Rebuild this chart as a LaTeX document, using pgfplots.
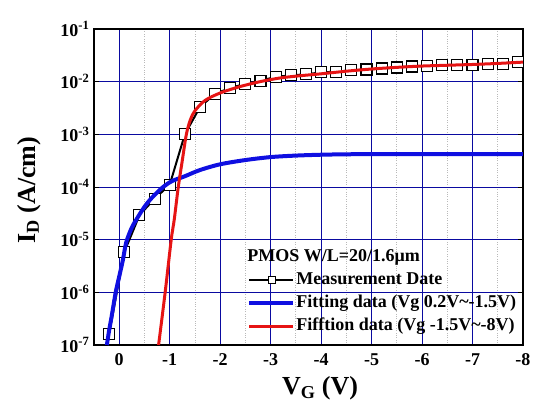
\documentclass[border=0pt]{standalone}
\usepackage{fontspec}
\setmainfont{Liberation Serif}
\usepackage{pgfplots}
\pgfplotsset{compat=1.18}
\definecolor{gridblue}{RGB}{10,10,160}
\definecolor{curveblue}{RGB}{15,15,225}
\definecolor{curvered}{RGB}{230,20,20}
\begin{document}
\begin{tikzpicture}
\path[use as bounding box] (-94bp,-67bp) rectangle (450bp,345bp);
\begin{axis}[
  at={(0bp,0bp)}, anchor=south west,
  scale only axis, width=429bp, height=316bp,
  ymode=log, log basis y=10,
  x dir=reverse,
  xmin=-8, xmax=0.5, ymin=1e-7, ymax=1e-1,
  clip marker paths=true,
  xtick={-8,-7,-6,-5,-4,-3,-2,-1,0},
  xticklabels={-8,-7,-6,-5,-4,-3,-2,-1,0},
  minor xtick={-7.5,-6.5,-5.5,-4.5,-3.5,-2.5,-1.5,-0.5},
  ytick={1e-7,1e-6,1e-5,1e-4,1e-3,1e-2,1e-1},
  yticklabels={10\textsuperscript{-7},10\textsuperscript{-6},10\textsuperscript{-5},10\textsuperscript{-4},10\textsuperscript{-3},10\textsuperscript{-2},10\textsuperscript{-1}},
  grid=both,
  major grid style={gridblue, line width=0.9bp},
  minor grid style={gray!55, dotted, line width=0.8bp},
  axis line style={black, line width=1.3bp},
  tick align=inside,
  major tick length=5bp, minor tick length=3bp,
  tick style={black, line width=0.8bp},
  xtick style={draw=none},
  tick label style={font=\fontsize{18bp}{20bp}\selectfont\bfseries},
  yticklabel style={xshift=-1bp},
  xticklabel style={yshift=-5bp},
  xlabel={V\textsubscript{G} (V)},
  ylabel={I\textsubscript{D} (A/cm)},
  label style={font=\fontsize{26bp}{28bp}\selectfont\bfseries},
  xlabel style={at={(axis description cs:0.527,-0.1)}, anchor=north, inner sep=0pt},
  ylabel style={at={(axis description cs:-0.152,0.49)}, anchor=center, inner sep=0pt},
  legend style={at={(axis cs:-2.475,7.6e-6)}, anchor=north west, draw=none, fill=none,
    font=\fontsize{18bp}{20bp}\selectfont\bfseries,
    nodes={inner sep=1bp, text height=12bp, text depth=4bp},
    row sep=5bp},
  legend cell align=left,
  /tikz/every even column/.append style={column sep=4bp},
]
\addlegendimage{empty legend}
\addlegendentry{\hspace*{-49bp}PMOS W/L=20/1.6μm}

\addplot[black, line width=2bp, mark=square*, mark size=5.5bp,
  mark options={fill=white, draw=black, line width=1.1bp},
  legend image code/.code={\draw[black,line width=2bp] (0bp,0bp) -- (44bp,0bp);
    \draw[black,fill=white,line width=0.9bp] (19bp,-3.5bp) rectangle (26bp,3.5bp);}]
coordinates {
(0.2,1.64e-7) (-0.1,5.8e-6) (-0.4,2.9e-5) (-0.7,6e-5) (-1.0,1.1e-4)
(-1.3,1e-3) (-1.6,3.3e-3) (-1.9,5.9e-3) (-2.2,7.6e-3) (-2.5,9.1e-3)
(-2.8,1.05e-2) (-3.1,1.23e-2) (-3.4,1.32e-2) (-3.7,1.38e-2) (-4.0,1.5e-2)
(-4.3,1.55e-2) (-4.6,1.64e-2) (-4.9,1.7e-2) (-5.2,1.78e-2) (-5.5,1.86e-2)
(-5.8,1.94e-2) (-6.1,2.0e-2) (-6.4,2.05e-2) (-6.7,2.1e-2) (-7.0,2.1e-2)
(-7.3,2.2e-2) (-7.6,2.2e-2) (-7.9,2.4e-2)
};
\addlegendentry{Measurement Date}

\addplot[curveblue, line width=4bp, smooth, no marks,
  legend image code/.code={\draw[curveblue,line width=4bp] (0bp,0bp) -- (44bp,0bp);}]
coordinates {
(0.245,1e-7) (0.2,1.9e-7) (0.15,3.5e-7) (0.07,1e-6) (0.0,2e-6) (-0.07,4e-6)
(-0.14,9e-6) (-0.25,1.7e-5) (-0.35,2.5e-5) (-0.5,4.2e-5) (-0.65,6.3e-5) (-0.87,1e-4)
(-1.05,1.3e-4) (-1.3,1.6e-4) (-1.6,2.1e-4) (-2.0,2.7e-4) (-2.5,3.25e-4) (-3.0,3.7e-4)
(-3.5,3.95e-4) (-4.0,4.1e-4) (-4.5,4.18e-4) (-5.0,4.2e-4) (-6.0,4.2e-4) (-7.0,4.2e-4) (-8.0,4.2e-4)
};
\addlegendentry{Fitting data (Vg 0.2V\textasciitilde-1.5V)}

\addplot[curvered, line width=3bp, smooth, no marks,
  legend image code/.code={\draw[curvered,line width=3bp] (0bp,0bp) -- (44bp,0bp);}]
coordinates {
(-0.78,1e-7) (-0.91,1e-6) (-1.03,1e-5) (-1.09,2.4e-5) (-1.17,1e-4) (-1.25,3.2e-4)
(-1.33,1e-3) (-1.41,1.9e-3) (-1.5,2.8e-3) (-1.7,4.4e-3) (-2.0,6.1e-3) (-2.4,8.1e-3)
(-2.79,1.0e-2) (-3.2,1.18e-2) (-3.6,1.3e-2) (-4.0,1.41e-2) (-4.5,1.58e-2) (-5.0,1.74e-2)
(-5.5,1.87e-2) (-6.0,1.98e-2) (-6.5,2.05e-2) (-7.0,2.12e-2) (-7.5,2.22e-2) (-8.0,2.35e-2)
};
\addlegendentry{Fifftion data (Vg -1.5V\textasciitilde-8V)}
\end{axis}
\end{tikzpicture}
\end{document}
